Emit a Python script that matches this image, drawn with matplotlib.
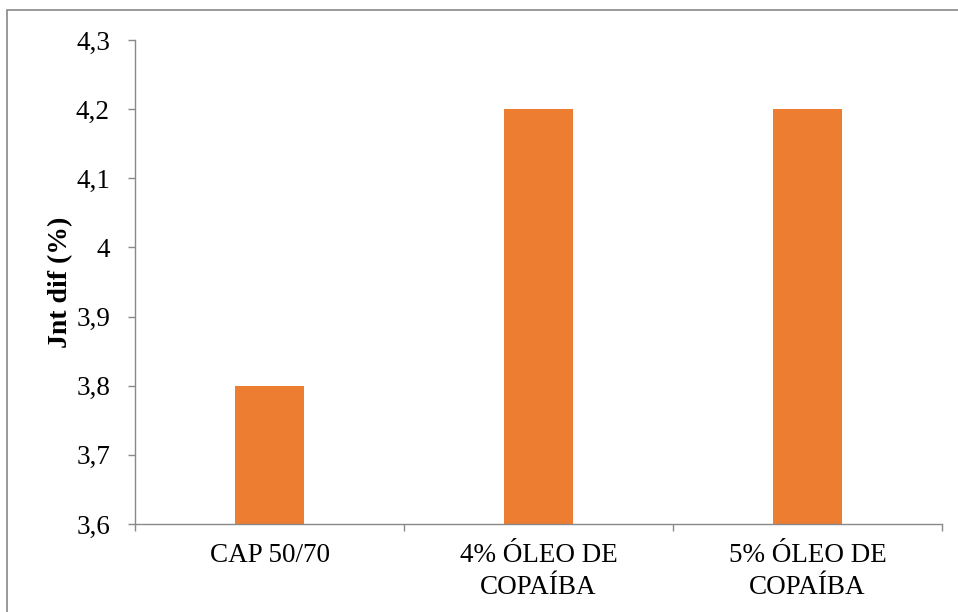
import matplotlib
matplotlib.use("Agg")
import matplotlib.pyplot as plt
from matplotlib.patches import Rectangle

categories = ["CAP 50/70", "4% ÓLEO DE\nCOPAÍBA", "5% ÓLEO DE\nCOPAÍBA"]
values = [3.8, 4.2, 4.2]
y_ticks = [3.6, 3.7, 3.8, 3.9, 4.0, 4.1, 4.2, 4.3]
y_tick_labels = ["3,6", "3,7", "3,8", "3,9", "4", "4,1", "4,2", "4,3"]
y_label = "Jnt dif (%)"

plt.rcParams["font.family"] = ["Liberation Serif", "DejaVu Serif"]

W, H = 958, 612
fig = plt.figure(figsize=(W / 100, H / 100), dpi=100)
ax = fig.add_axes([135 / W, 1 - 524 / H, (942 - 135) / W, (524 - 40) / H])

spine_color = "#898989"
x = list(range(len(categories)))
ax.bar(x, values, width=0.253, color="#ED7D31", zorder=2)

ax.set_xlim(-0.5, len(categories) - 0.5)
ax.set_ylim(3.6, 4.3)
ax.set_yticks(y_ticks)
ax.set_yticklabels(y_tick_labels, fontsize=19.5)
ax.set_xticks(x)
ax.set_xticklabels(categories, fontsize=19.5, linespacing=1.35)
ax.tick_params(axis="x", length=0, pad=14)
# category separators along the x axis
ax.set_xticks([i - 0.5 for i in range(len(categories) + 1)], minor=True)
ax.tick_params(axis="x", which="minor", length=5, color=spine_color, width=1)
ax.tick_params(axis="y", length=5, color=spine_color, width=1, pad=13)

for side in ("top", "right"):
    ax.spines[side].set_visible(False)
for side in ("left", "bottom"):
    ax.spines[side].set_color(spine_color)
    ax.spines[side].set_linewidth(1)

ax.set_ylabel(y_label, fontsize=20, fontweight="bold")
ax.yaxis.set_label_coords(-0.077, 0.5)

# outer chart frame
fig.patches.append(Rectangle((7 / W, -0.1), 1.2, (H - 10) / H + 0.1,
                             transform=fig.transFigure, fill=False,
                             edgecolor=spine_color, linewidth=1.2))

fig.savefig("out.png", dpi=100)
